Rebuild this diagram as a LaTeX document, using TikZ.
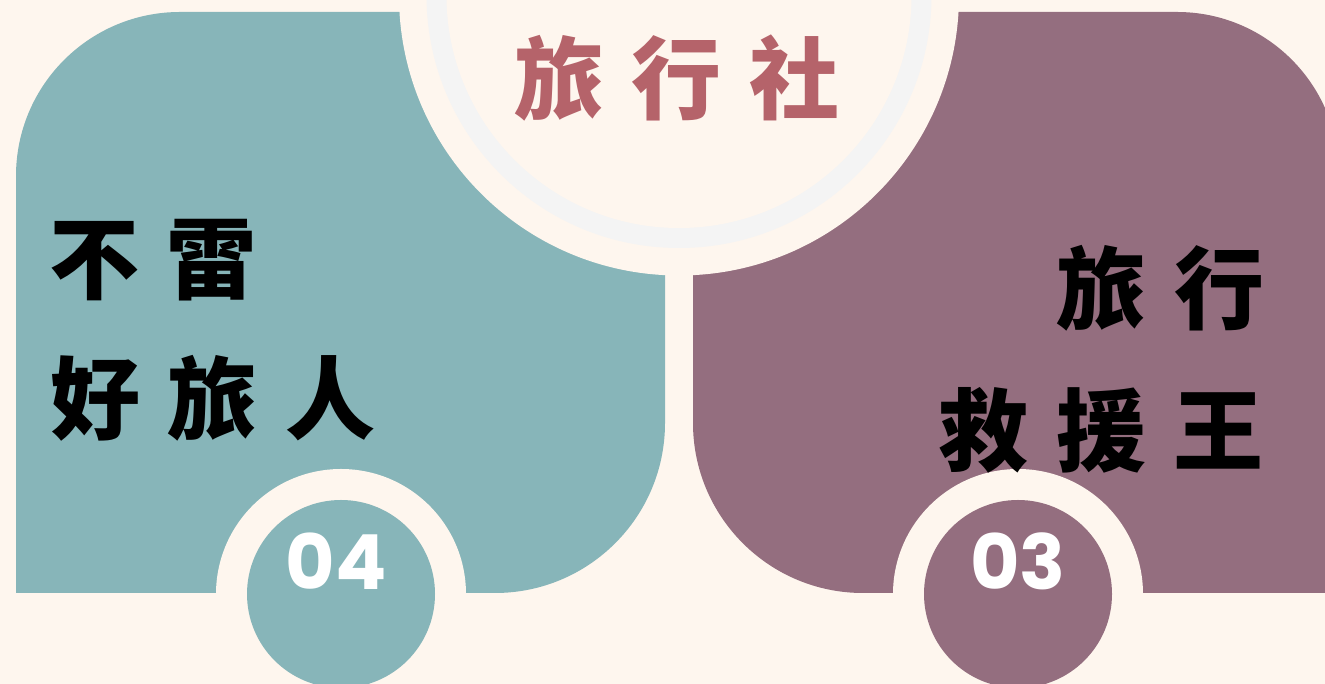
\documentclass[tikz,border=0pt]{standalone}
\usepackage{fontspec}
\newfontfamily\cjk{Noto Sans CJK TC}
\newfontfamily\digits{Poppins}
\definecolor{cream}{HTML}{FEF6EE}
\definecolor{tealc}{HTML}{87B5B9}
\definecolor{plum}{HTML}{946E7F}
\definecolor{rose}{HTML}{B5636A}
\definecolor{ringc}{HTML}{F4F4F4}
\tikzset{
  cjktext/.style={inner sep=0pt, font=\cjk\bfseries\fontsize{90pt}{100pt}\selectfont},
  numtext/.style={inner sep=0pt, text=white, font=\digits\bfseries\fontsize{76pt}{80pt}\selectfont},
}
\newcommand{\gapc}{\hspace{28pt}}
\begin{document}
\begin{tikzpicture}[x=1pt,y=1pt]
\useasboundingbox (0,0) rectangle (1325,684);
\fill[cream] (0,0) rectangle (1325,684);
% left teal panel
\fill[tealc] (16,91) -- (16,508) arc[start angle=180,end angle=90,radius=164]
  -- (665,672) -- (665,261) arc[start angle=0,end angle=-90,radius=170] -- cycle;
% right plum panel
\fill[plum] (693,261) -- (693,672) -- (1177,672) arc[start angle=90,end angle=0,radius=162]
  -- (1339,91) -- (863,91) arc[start angle=270,end angle=180,radius=170] -- cycle;
% top circle with ring
\fill[cream] (679,688.5) circle[radius=280];
\fill[ringc] (679,688.5) circle[radius=252.5];
\fill[cream] (679,688.5) circle[radius=232.5];
% bottom badges
\fill[cream] (341,90) circle[radius=125];
\fill[tealc] (341,90) circle[radius=94];
\fill[cream] (1018,90) circle[radius=125];
\fill[plum] (1018,90) circle[radius=94];
% texts
\node[cjktext, text=rose] (title) at (677,606) {旅\gapc 行\gapc 社};
\node[cjktext] (l1) at (153,424) {不\gapc 雷};
\node[cjktext] (l2) at (213,286) {好\gapc 旅\gapc 人};
\node[cjktext] (r1) at (1160,396) {旅\gapc 行};
\node[cjktext] (r2) at (1101,254) {救\gapc 援\gapc 王};
\node[numtext] (n4) at (336,123) {04};
\node[numtext] (n3) at (1018,123) {03};
\end{tikzpicture}
\end{document}
